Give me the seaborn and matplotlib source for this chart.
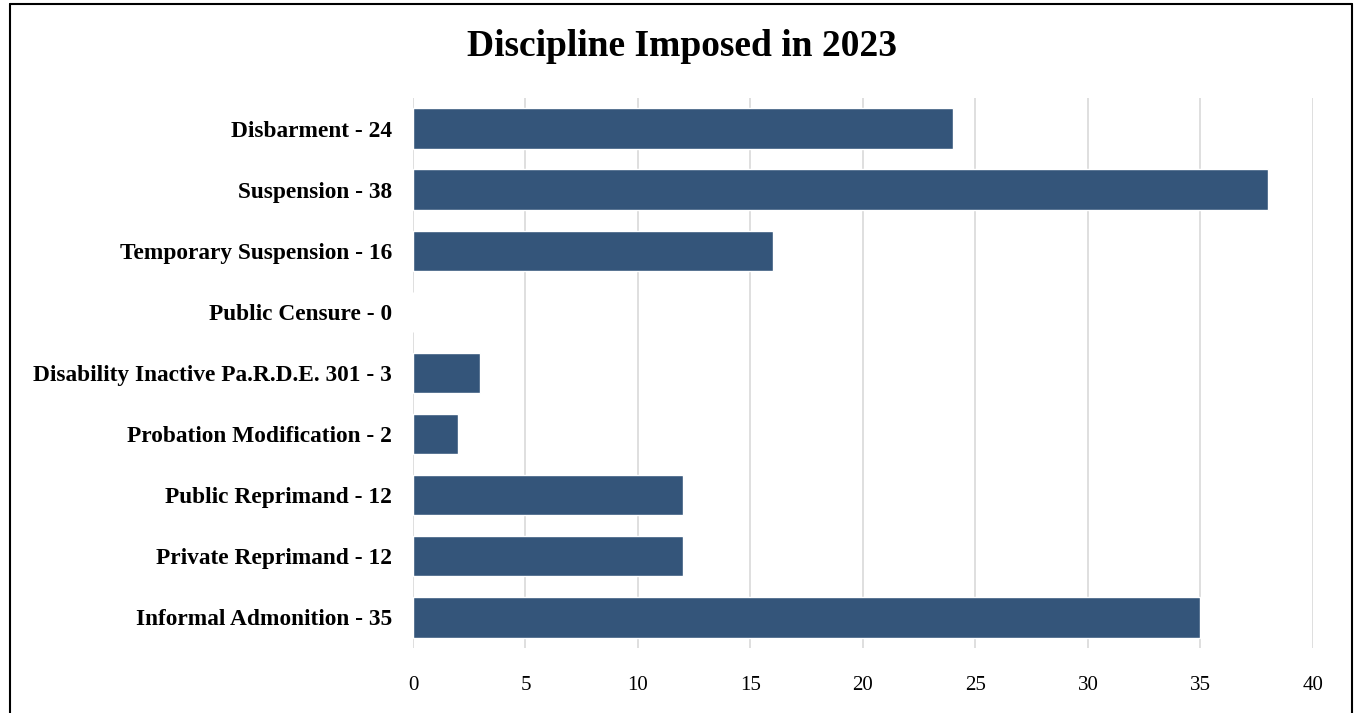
import matplotlib
matplotlib.use("Agg")
import matplotlib.pyplot as plt
import seaborn as sns
import pandas as pd
from matplotlib.lines import Line2D

categories = ["Disbarment - 24", "Suspension - 38", "Temporary Suspension - 16",
              "Public Censure - 0", "Disability Inactive Pa.R.D.E. 301 - 3",
              "Probation Modification - 2", "Public Reprimand - 12",
              "Private Reprimand - 12", "Informal Admonition - 35"]
values = [24, 38, 16, 0, 3, 2, 12, 12, 35]
xticks = [0, 5, 10, 15, 20, 25, 30, 35, 40]
title = "Discipline Imposed in 2023"

sns.set_theme(style="white")
plt.rcParams['font.family'] = ['Liberation Serif', 'DejaVu Serif']
plt.rcParams['text.color'] = 'black'

df = pd.DataFrame({"cat": categories, "val": values})

fig = plt.figure(figsize=(13.54, 7.13), dpi=100)
ax = fig.add_axes([0.305, 0.0912, 0.6647, 0.7714])
sns.barplot(data=df, x="val", y="cat", color="#34557A", saturation=1,
            width=0.66, ax=ax, zorder=3)
ax.set_xlim(0, 40)
ax.set_xticks(xticks)
ax.set_xticklabels([str(t) for t in xticks], fontsize=15)
ax.set_yticklabels(categories, fontsize=16.8, fontweight="bold")
ax.set_xlabel("")
ax.set_ylabel("")
ax.grid(axis="x", color="#D9D9D9", linewidth=1.2, zorder=0)
ax.grid(axis="y", visible=False)
for s in ax.spines.values():
    s.set_visible(False)
ax.tick_params(axis="both", length=0, colors="black")
ax.tick_params(axis="y", pad=15)
ax.tick_params(axis="x", pad=20)

fig.text(0.504, 1 - 46 / 713, title, ha="center", va="center",
         fontsize=27, fontweight="bold", color="black")

# outer border (bottom edge out of frame)
bx0, bx1 = 9.5 / 1354, 1351.5 / 1354
by1 = 1 - 3.5 / 713
for xs, ys in [([bx0, bx0], [0, by1]), ([bx0, bx1], [by1, by1]), ([bx1, bx1], [0, by1])]:
    fig.add_artist(Line2D(xs, ys, color="black", linewidth=1.5, transform=fig.transFigure))

fig.savefig("out.png", dpi=100)
